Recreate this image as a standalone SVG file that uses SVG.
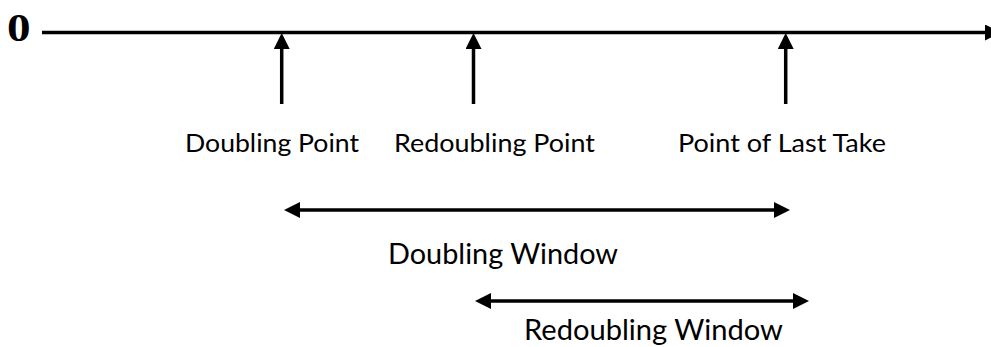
<svg xmlns="http://www.w3.org/2000/svg" width="991" height="347" viewBox="0 0 991 347">
<style>
.ln{stroke:#000;stroke-width:3.5;fill:none}
.hd{fill:#000}
.lbl{font-family:Lato,"Open Sans","Liberation Sans",sans-serif;font-size:25.8px;fill:#000}
.win{font-family:Lato,"Open Sans","Liberation Sans",sans-serif;font-size:28px;fill:#000}
.zero{font-family:"Liberation Serif","Times New Roman",serif;font-weight:bold;font-size:41px;fill:#000}
</style>
<defs>
<marker id="ah" markerUnits="userSpaceOnUse" markerWidth="16" markerHeight="16" refX="8" refY="8" orient="auto-start-reverse" viewBox="0 0 16 16">
<path class="hd" d="M0,0 L16,8 L0,16 Z"/>
</marker>
</defs>
<g id="axis">
<text class="zero" transform="translate(7,41) scale(1.15,1)" x="0" y="0">0</text>
</g>
<g id="connectors">
<path class="ln" d="M42,32.5 H993" marker-end="url(#ah)"/>
<path class="ln" d="M281.7,104 V41" marker-end="url(#ah)"/>
<path class="ln" d="M473.5,104 V41" marker-end="url(#ah)"/>
<path class="ln" d="M785.7,104 V41" marker-end="url(#ah)"/>
<path class="ln" d="M292,210 H782" marker-start="url(#ah)" marker-end="url(#ah)"/>
<path class="ln" d="M483,301 H801" marker-start="url(#ah)" marker-end="url(#ah)"/>
</g>
<g id="doubling-point">
<text class="lbl" x="185" y="152" textLength="174" lengthAdjust="spacingAndGlyphs">Doubling Point</text>
</g>
<g id="redoubling-point">
<text class="lbl" x="394" y="152" textLength="201" lengthAdjust="spacingAndGlyphs">Redoubling Point</text>
</g>
<g id="point-of-last-take">
<text class="lbl" x="678" y="152" textLength="208" lengthAdjust="spacingAndGlyphs">Point of Last Take</text>
</g>
<g id="doubling-window">
<text class="win" x="388" y="264" textLength="230" lengthAdjust="spacingAndGlyphs">Doubling Window</text>
</g>
<g id="redoubling-window">
<text class="win" x="524" y="340" textLength="259" lengthAdjust="spacingAndGlyphs">Redoubling Window</text>
</g>
</svg>
